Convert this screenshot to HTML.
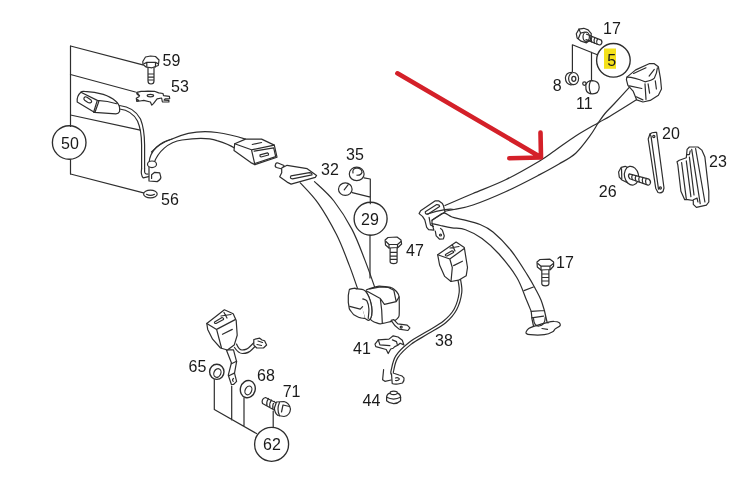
<!DOCTYPE html>
<html><head><meta charset="utf-8">
<style>
html,body{margin:0;padding:0;background:#fff;width:749px;height:484px;overflow:hidden}
svg{display:block;will-change:transform}
text{font-family:"Liberation Sans",sans-serif;font-size:16px;fill:#1a1a1a}
</style></head><body>
<svg width="749" height="484" viewBox="0 0 749 484">
<rect width="749" height="484" fill="#fff"/>
<g fill="none" stroke="#2e2e2e" stroke-width="1.2" stroke-linejoin="round" stroke-linecap="round">

<!-- ===== LEFT GROUP 50 ===== -->
<path d="M70.5,46 V126.5 M70.5,159.5 V174"/>
<path d="M70.5,46 L142.8,64.9 M70.5,74.5 L135.4,92 M70.5,115 L140.3,130.2 M70.5,174 L143.5,192.8"/>
<circle cx="69.2" cy="142.5" r="16.8" stroke-width="1.35"/>
<!-- bolt 59 -->
<path d="M148,67 V81 Q148,84 151,84 Q154,84 154,81 V67 M148,74 H154 M148,77.2 H154 M148,80 H154" fill="#fff"/>
<path d="M142.8,61.5 L145.5,57 L150.5,56 L155.5,56.5 L159,60 L158.3,65.5 L152,67.8 L146,67 L143,64.5 Z" fill="#fff"/>
<path d="M144,63.8 L146.8,62.4 H155.5 L158.2,63.8 M146.8,62.4 V67 M155.5,62.4 V67"/>
<!-- bracket 53 -->
<path d="M144.3,91.3 L148.0,91.1 L154.4,91.3 L158.7,92.9 L163.0,93.5 L163.5,95.6 L169.4,96.4 L169.7,98.6 L165.1,98.8 L164.1,100.2 L168.9,100.4 L168.9,102.0 L162.4,102.0 L161.6,98.0 L157.1,98.8 L153.4,103.6 L151.8,105.2 L150.4,102.0 L143.8,100.4 L140.0,101.0 L136.8,101.5 L136.3,98.3 L138.9,96.7 L139.5,95.6 L137.3,94.5 L136.8,92.4 L141.1,91.3 Z" fill="#fff"/>
<ellipse cx="150.4" cy="95.6" rx="3.2" ry="1.3"/>
<path d="M137,93 L138.5,94.5 M137.2,99.8 L138.6,100.5" stroke-width="1.6"/>
<!-- left buckle -->
<path d="M77.2,101.9 Q76.5,96 80.9,92.2 Q82,91 84.5,91.4 Q95,92 103.3,94.4 Q111,97 115.5,101 Q119.5,104.5 119.6,108 L119.6,111.5 Q118.5,113.8 115.9,113.8 L94.3,112.3 Z" fill="#fff"/>
<path d="M80.9,92.2 L97.3,100.4 L93.6,112.3 M98.8,101.5 L95,112.3 M97.3,100.4 Q108,101 116.6,103.7"/>
<path d="M84,98 Q85,96 87,97.2 L91,100 Q92.5,102 90.5,102.8 Q89,103.2 87.6,102.3 L84.6,100.2 Q83.5,99 84,98 Z"/>
<!-- cable -->
<path d="M119.6,105.5 Q134,107 140.5,119 Q144.5,129 144.6,145 L144.6,168.6"/>
<path d="M119.6,109 Q132,110.5 137.5,121 Q141.5,130 141.6,145 L141.6,168.6"/>
<path d="M141.6,168.6 Q140.6,175 143.2,177.9 L148.5,176.6 M144.6,168.6 V172 Q145,174.5 148,174" />
<!-- strap left -->
<path d="M149,163 C150,150 160,142 172,139 C185,133 200,130 217,132.5 C228,134 237,136.5 245.5,139.1"/>
<path d="M154,163 C158,152 168,142 182,140 C195,138 208,137.5 217,140.6 C225,143 230,145 234.5,148"/>
<path d="M151.5,152 Q160,143 172,139"/>
<!-- strap anchor -->
<ellipse cx="152" cy="164.3" rx="4.5" ry="3.3" fill="#fff"/>
<path d="M149,167.3 V181 L157.2,181.6 Q161,179.5 160.9,177.3 L159.7,172.9 L154.7,172.3 L151.6,174.8 V178.5" fill="#fff"/>
<!-- washer 56 -->
<ellipse cx="150.4" cy="194" rx="6.8" ry="3.8" fill="#fff"/>
<path d="M146.5,194.3 Q150.5,196.5 154.5,194.3"/>

<!-- ===== top buckle ===== -->
<path d="M234.7,143.8 L245.5,139.1 L261.6,139.1 L274.3,145.1 L277,157.2 L254.9,164.6 L250.8,162.6 L234,150.5 Z" fill="#fff"/>
<path d="M234.7,143.8 L251.5,149.8 L274.3,145.1 M251.5,149.8 L254.9,164.6 M254.2,151.2 L273.7,147.8 L275.7,156.6 L255.5,163.3 M252.2,144.5 L261.6,142.5"/>
<path d="M260,154.8 L267.5,152.8 Q269,153.5 268.5,155 L261,157 Q259.5,156.5 260,154.8 Z"/>
<!-- tongue 32 -->
<path d="M275.5,164.5 Q276,162.5 278,163 L284,165.5 L282,169 L276.5,167.5 Q274.5,166.5 275.5,164.5 Z" fill="#fff"/>
<path d="M281.7,172.7 L281.7,168 L287.1,165.3 L307.2,168.7 L316.6,175.4 L315.3,177.4 L291.1,184.1 L287.1,182.1 L279.7,176.7 Z" fill="#fff"/>
<path d="M291,175.8 L309.5,172.6 Q312.3,172.8 312,174.8 L292.5,178.8 Q289.3,178.5 291,175.8 Z"/>
<!-- strap to retractor -->
<path d="M300.3,182.9 C303.3,186.3 312.4,195.0 318.4,203.6 C324.4,212.2 331.3,224.3 336.5,234.6 C341.7,244.9 345.7,256.1 349.4,265.6 C353.1,275.1 357.0,287.1 358.5,291.4"/>
<path d="M314.5,181.6 C317.7,184.8 327.6,193.0 333.9,201.0 C340.1,209.0 346.8,219.5 352.0,229.4 C357.2,239.3 361.1,250.5 365.0,260.4 C368.9,270.3 373.6,284.1 375.3,288.9"/>

<!-- ===== 29 group ===== -->
<circle cx="370.6" cy="218.7" r="16.5" stroke-width="1.35"/>
<path d="M364,177.8 L370.3,179 V203.7 M352.2,192.6 L370.3,197.2 M370,235.2 V278"/>
<ellipse cx="356.7" cy="173.9" rx="7.4" ry="6.8" fill="#fff"/>
<path d="M353,173 Q352,168.5 357,168 Q362,168.5 362,172.5 Q361,175.5 357,175.2"/>
<ellipse cx="345.3" cy="189.2" rx="6.8" ry="6.25" fill="#fff"/>
<path d="M344.2,189.8 L348.2,184.7"/>
<!-- bolt 47 -->
<path d="M390.1,248 V261.5 Q390.1,263.7 393.6,263.7 Q397.1,263.7 397.1,261.5 V248 M390.1,252.3 H397.1 M390.1,256.1 H397.1 M390.1,259.3 H397.1" fill="#fff"/>
<path d="M385.5,245 L385.1,240 L388,237.5 L397,237 L401,240 L401.6,244 L398,247.5 L389,248 Z" fill="#fff"/>
<path d="M386,241.5 L389,244.5 H397.5 L401,241.5 M389,244.5 V248 M397.5,244.5 V248"/>
<!-- retractor -->
<path d="M349.4,289.5 C349.7,289.2 354.4,288.1 354.8,288.1 C355.2,288.2 358.5,289.9 358.8,290.2 C359.1,290.5 362.0,295.1 362.2,295.5 C362.3,296.0 363.1,301.7 363.1,302.3 C363.2,302.8 363.4,309.7 363.5,310.3 C363.6,311.0 365.7,318.1 365.5,318.4 C365.4,318.7 360.6,317.9 360.2,317.7 C359.7,317.6 353.9,314.7 353.4,314.4 C353.0,314.0 349.6,309.5 349.4,309.0 C349.2,308.5 348.4,302.8 348.3,302.3 C348.3,301.7 348.3,296.0 348.3,295.5 C348.4,295.0 349.2,289.8 349.4,289.5 Z" fill="#fff"/>
<path d="M366.2,290.2 C366.9,289.4 377.3,286.3 379.0,286.1 C380.6,285.9 389.9,287.1 391.1,287.5 C392.2,287.8 395.9,290.9 396.5,291.5 C397.0,292.1 399.0,295.3 399.1,296.9 C399.3,298.5 399.4,314.1 399.1,315.7 C398.9,317.3 396.4,319.9 395.1,320.4 C393.9,320.9 381.8,323.7 380.3,323.8 C378.9,323.9 374.3,322.1 373.6,321.7 C372.9,321.4 370.4,319.5 370.2,319.1 C370.1,318.7 371.5,316.6 371.6,315.7 C371.7,314.8 371.8,307.5 371.6,306.3 C371.4,305.0 369.3,298.0 368.9,296.9 C368.5,295.8 365.5,290.9 366.2,290.2 Z" fill="#fff"/>
<path d="M356.1,288.8 C357.2,289.0 362.5,289.1 364.2,290.2 C365.9,291.2 367.9,294.7 368.9,296.9 C369.9,299.0 371.2,303.8 371.6,306.3 C371.9,308.8 371.9,313.8 371.6,315.7 C371.2,317.6 369.7,320.0 368.9,320.4 C368.1,320.8 366.0,318.9 365.5,318.7" fill="#fff"/>
<path d="M362.8,298.9 C363.4,299.2 366.1,299.6 366.9,300.9 C367.7,302.3 368.7,306.6 368.9,309.0 C369.1,311.3 368.3,317.1 368.2,318.4"/>
<path d="M349.7,306.3 L360.2,309.2 L362.6,306.6 M367.6,291.5 L380.3,298.5 L384.4,304.3 L396.2,301.7 L399.1,296.9 M369.8,288.8 L380.3,286.8 L388.4,287.5 L393.8,290.2 L396.2,301.7 M380.3,298.5 L381.7,310.3 L382.3,323.1"/>
<path d="M391.1,320.4 L393.8,319.7 L397.8,323.8 L407.2,325.1 L409.9,327.8 L407.9,330.5 L399.1,329.1 L395.1,325.8 Z" fill="#fff"/>
<circle cx="401.2" cy="327.1" r="1"/>
<!-- ===== buckle 38 ===== -->
<path d="M460.5,279.0 C460.7,281.2 462.4,287.2 461.8,292.3 C461.2,297.4 459.3,304.6 456.6,309.7 C453.9,314.8 450.4,318.7 445.7,322.7 C441.0,326.7 434.2,330.0 428.4,333.6 C422.6,337.2 416.1,340.4 411.0,344.4 C405.9,348.4 400.9,353.1 398.0,357.4 C395.1,361.7 394.4,367.6 393.7,370.4 C392.9,373.2 393.5,373.4 393.5,374.0"/>
<path d="M458.0,280.0 C458.2,282.1 459.8,287.5 459.2,292.3 C458.6,297.1 456.8,304.2 454.2,309.0 C451.6,313.8 448.1,317.2 443.5,321.0 C438.9,324.8 432.6,327.9 426.8,331.5 C421.1,335.1 414.2,338.4 409.0,342.5 C403.8,346.6 398.8,351.2 395.8,355.8 C392.8,360.4 392.0,367.0 391.2,370.0 C390.4,373.0 391.0,373.3 391.0,374.0"/>
<path d="M437.7,254.8 L456.1,242.1 L464.3,247.5 L467.5,267.5 L466.2,275.8 L458.6,280.2 L451,281.5 L444.7,276.4 L439.6,265 Z" fill="#fff"/>
<path d="M437.7,254.8 L449.8,259 L464.3,248.5 M449.8,259 L452.3,267.5 L451,281.5 M453.6,265.6 L462.4,261.2"/>
<path d="M445.5,254.5 L452,250.8 Q454,251 453.5,252.5 L447,256 Q445,256 445.5,254.5 Z"/>
<path d="M452.3,244.7 L455,251 M450,248 L459,246.5"/>
<!-- cable end bracket -->
<path d="M383.6,369.7 L382.6,379.7 L384.9,381.3 L391.2,380.0"/>
<path d="M391.5,373.9 L392.2,383.5 Q394,384.5 398,384 L402.5,383 Q404.5,381 404,378 Q402.5,375.5 399,375 L394.5,373.5" fill="#fff"/>
<path d="M395.5,378 Q398,377 399.5,379 Q398,381 395.5,380.5"/>
<!-- clip 41 -->
<path d="M375.0,344.1 L378.3,339.9 L389.0,339.1 L393.2,335.8 L398.1,337.0 L402.3,340.3 L403.9,344.9 L400.1,343.2 L397.8,345.2 L394.8,346.6 L393.2,348.2 L390.7,349.0 L388.2,353.5 L386.2,349.5 L375.8,346.6 Z" fill="#fff"/>
<path d="M378.3,339.9 L379.9,344.9 L389.9,345.7 M392.4,339.9 L396.5,341.6 L397.3,344.6"/>
<!-- nut 44 -->
<path d="M386.6,397 Q387,393.8 390,393.2 L390.5,391.8 Q393.6,390.6 397,391.8 L397.4,393.2 Q400.3,394 400.6,397 L400.6,400.8 Q397.5,403.8 393.6,403.7 Q389.5,403.6 386.6,400.8 Z" fill="#fff"/>
<path d="M386.6,397.3 Q393.6,400.8 400.6,397.3 M390,393.4 Q393.6,396 397.4,393.4"/>

<!-- ===== bottom-left group 62 ===== -->
<path d="M226.3,349.8 L231.4,362.8 L228.3,375.2 L231.4,384.5 L233.5,384.5 L236.6,381.4 L234.5,373.1 L236.6,361.7 L233.5,349.8 Z" fill="#fff"/>
<path d="M231.4,363.8 L236.6,361.2 M228.9,375.7 L234.3,373.1 M233.5,378.5 Q231.8,379.8 233.2,381.3"/>
<path d="M236.5,344 Q239,350 242,350 Q247,350 250,346.5 L254,342.5 M234.5,347.5 Q238.5,353.5 242.5,353.5 Q248.5,353.5 252,349.5 L255.5,346"/>
<path d="M253.8,339.5 L259.7,338.2 L262,340 L264.6,340.8 L266.6,345 L263.5,348 L256.8,348 L253.8,345.1 Z" fill="#fff"/><path d="M258,341 L262.5,342.5 M257,344.5 L261.5,345.5"/>
<path d="M206.8,323.5 L224.4,309.8 L233.2,313.7 L236.2,320.6 L237.2,335.3 L234.2,345.1 L227.4,350 L220.5,348 L212.6,339.2 L207.7,329.4 Z" fill="#fff"/>
<path d="M206.8,323.5 L216.6,329.4 L235.2,319.6 M216.6,329.4 L221.5,348 M222.5,334.3 L232.3,329.4"/>
<path d="M214.6,322 L222,317.5 Q224,318 223.5,319.5 L216,323.5 Q214,323.5 214.6,322 Z"/>
<path d="M224,312.5 L227,318 M221,316 L231,314.5"/>
<ellipse cx="216.8" cy="371.8" rx="7.2" ry="7.6" fill="#fff" stroke-width="1.4"/>
<ellipse cx="217.4" cy="373" rx="3.4" ry="4.5" transform="rotate(25 217.4 373)"/>
<ellipse cx="247.8" cy="389.1" rx="7.4" ry="8.7" transform="rotate(15 247.8 389.1)" fill="#fff" stroke-width="1.4"/>
<ellipse cx="248.4" cy="390.4" rx="3.2" ry="4.6" transform="rotate(25 248.4 390.4)"/>
<path d="M214.3,379.5 V409.6 L256.5,433.5 M231.7,386 V420 M244,397.8 V425.5 M273.2,411 V427.5"/>
<circle cx="271.6" cy="444.3" r="17" stroke-width="1.35"/>
<!-- bolt 71 -->
<path d="M265.5,397.5 L277.5,403.5 L276,411 L262.5,403.5 Q261,399 265.5,397.5 Z M268.5,398.5 Q266,402 267,405.5 M271.5,400 Q269,403.5 270,407 M274.5,401.5 Q272,405 273,408.5" fill="#fff"/>
<path d="M276.5,402 L284,401.5 Q289.5,403 290.5,409 Q290,415.5 284,416.5 L278,415.5 Q274.5,413 274.4,408 Z" fill="#fff"/>
<path d="M279.5,402.5 Q276.5,409 279.5,415.8 M283,405 L281.5,412 M283,405 L289.5,406.5"/>

<!-- ===== right belt ===== -->
<!-- upper strap D-ring to guide -->
<path d="M445.0,205.5 C449.7,203.5 462.8,197.8 473.0,193.5 C483.2,189.2 495.1,184.9 506.1,179.5 C517.1,174.1 531.1,166.0 539.2,161.2 C547.4,156.4 548.9,154.7 555.0,150.5 C561.1,146.3 568.5,140.6 575.7,136.0 C582.9,131.4 592.7,126.0 598.4,122.7 C604.1,119.4 605.0,119.2 610.0,116.2 C615.0,113.2 624.0,107.6 628.5,104.8 C633.0,102.0 635.4,100.5 636.8,99.6"/>
<path d="M436.0,213.0 C439.0,212.4 447.8,210.8 454.0,209.5 C460.2,208.2 464.3,208.0 473.0,205.0 C481.7,202.0 495.1,196.5 506.1,191.5 C517.1,186.5 530.4,179.5 539.2,174.9 C548.0,170.3 552.9,167.6 559.0,164.0 C565.1,160.4 570.5,157.9 575.7,153.2 C580.9,148.5 586.3,140.8 590.1,135.7 C593.9,130.6 595.9,126.4 598.4,122.7 C600.9,119.0 602.4,116.6 605.0,113.5 C607.6,110.4 609.9,108.4 614.0,104.0 C618.1,99.6 626.9,90.0 629.5,87.2"/>
<!-- guide -->
<path d="M626.9,77.1 L635.7,69.9 L649.1,63.7 L654.3,63.7 L658.4,66.8 L660.5,78.7 L661.5,89 L658.4,95.2 L650.2,100.4 L642.9,102 L636.7,99.9 L633.1,91.1 L627.9,85.4 L626.4,79.7 Z" fill="#fff"/>
<path d="M626.9,77.1 Q634,77 645,81.8 Q652,80.5 654.3,78.2 Q657,73 657.4,67.8 M645,83.9 L646,99.4 M648.1,83.9 L649.6,93.2 M655.3,80.8 L656.4,89 M633.6,73.5 L646,67.8 M649.1,76.1 L654.3,69.4"/>
<path d="M629.5,85.9 L641.9,88.5 M636.2,96.8 L642.9,99.9"/>
<!-- D-ring -->
<path d="M419.1,213.6 L420.6,210.7 L435.3,200.8 L438.6,200.8 L442.4,203.6 L443.4,205.5 L445,212 L432,220.2 L432,223.6 L433.9,230.2 L428.6,229.7 L426.7,227.4 L424.8,219.8 L422.5,216.4 Z" fill="#fff"/>
<path d="M425.3,211.7 L436.7,204.6 Q439.5,204.5 439.6,206.5 L428.2,214.1 Q425,214.5 425.3,211.7 Z"/>
<path d="M429.1,217.4 L430.5,225 L433.4,226.4"/>
<path d="M435.3,231.2 L436.2,235.9 L439.6,239.2 L443.4,238.8 L444.3,235.9 L442.4,230.2 L440.5,228.3" fill="#fff"/>
<circle cx="440.5" cy="235" r="1"/>
<path d="M427.5,214 C432,212.5 438,210.8 445,209.6 C449,209 452,209 454,209.5"/>
<!-- lower strap -->
<path d="M432.0,220.2 C433.4,219.2 438.4,215.7 440.5,214.5 C442.6,213.3 442.9,212.7 444.8,213.1 C446.7,213.5 449.0,215.9 452.0,217.0 C455.0,218.1 457.9,218.3 462.6,219.6 C467.3,220.8 474.9,222.4 480.0,224.5 C485.1,226.6 487.8,227.7 493.0,232.0 C498.2,236.3 505.2,243.3 511.0,250.5 C516.8,257.7 523.3,268.5 527.5,275.1 C531.7,281.7 533.8,285.9 536.0,290.0 C538.2,294.1 539.6,296.6 541.0,300.0 C542.4,303.4 543.8,308.8 544.4,310.5"/>
<path d="M432.0,223.6 C433.4,223.9 437.2,224.8 440.5,225.5 C443.8,226.2 447.8,227.1 452.0,227.8 C456.2,228.5 460.5,227.9 465.5,229.7 C470.5,231.5 476.4,234.4 482.0,238.5 C487.6,242.6 493.2,247.5 499.0,254.0 C504.8,260.5 512.2,269.8 516.8,277.5 C521.4,285.2 524.1,294.4 526.5,300.0 C528.9,305.6 530.4,309.5 531.2,311.4"/>
<path d="M524,290.6 L533.4,287"/>
<!-- anchor -->
<path d="M526.3,331.4 C526.6,330.8 527.9,329.1 528.7,328.5 C529.6,327.9 531.5,327.2 533.7,326.4 C535.9,325.7 545.3,322.9 547.8,322.3 C550.2,321.7 553.0,321.4 554.4,321.5 C555.7,321.5 558.6,322.2 559.3,322.7 C560.0,323.2 560.6,324.9 560.1,325.6 C559.7,326.3 556.1,328.2 555.2,328.9 C554.3,329.6 554.0,331.1 552.7,331.8 C551.5,332.5 547.0,334.4 544.4,334.7 C541.8,335.0 532.5,334.9 530.4,334.7 C528.3,334.6 526.7,333.9 526.3,333.5 C525.8,333.1 526.0,332.0 526.3,331.4 Z" fill="#fff"/>
<path d="M531.2,311.4 L544.4,310.5 M531.6,317.8 L543.6,316.1 M531.2,311.4 L532,319 L533.5,326 M544.4,310.5 L546.9,321.5 L548,323"/>
<path d="M533.5,318.5 Q534,326.5 539.1,326 Q545,325.5 545.3,317"/>
<path d="M542,328.5 L547.5,329.3"/>
<!-- bolt 17 lower -->
<path d="M541.8,269.5 V283.5 Q541.8,285.8 545.3,285.8 Q548.9,285.8 548.9,283.5 V269.5 M541.8,274 H548.9 M541.8,277.5 H548.9 M541.8,281 H548.9" fill="#fff"/>
<path d="M537.3,267 L537,262 L540,259.5 L550,259.2 L553.6,262 L553.6,266 L550.5,269.5 L541,270 Z" fill="#fff"/>
<path d="M537.8,263.5 L541,266.2 H550 L553.4,263.5 M541,266.2 V270 M550,266.2 V270"/>

<!-- 17 top bolt, 8, 11 -->
<path d="M586.5,34.2 L601.3,40.1 Q602.8,42.5 600.8,44.6 L599.4,45 L586,39.6 Z" fill="#fff"/>
<path d="M589,35.5 Q587.5,38 588.6,40.8 M592,36.7 Q590.5,39.2 591.6,42 M594.8,37.8 Q593.3,40.3 594.4,43.2 M597.5,38.9 Q596,41.4 597.1,44.3"/>
<path d="M576.3,33.7 L579,29.1 L583.8,28.3 L588.1,29.9 L591.3,33.7 L590.3,40.1 L586.5,42.8 L581.1,41.2 L577.1,38 Z" fill="#fff"/>
<path d="M579,29.1 L580.6,33.1 L578.4,38.5 M580.6,33.1 L585,32"/>
<ellipse cx="586.2" cy="36.8" rx="3.2" ry="4.6" fill="#fff"/>
<path d="M586.5,34.2 L591.5,36 M586,39.6 L590.8,41"/>
<path d="M597.3,54.8 L572.4,44.8 V71.5 M591.5,52.3 V80.3"/>
<circle cx="613.4" cy="60.3" r="16.8" stroke-width="1.35"/>
<path d="M571.6,72.4 Q566,72.5 565.4,77.8 Q565.5,84 570.7,84.8 L574,84.5" fill="#fff"/>
<ellipse cx="573.6" cy="78.6" rx="5" ry="6.1" fill="#fff"/>
<ellipse cx="573.8" cy="78.8" rx="2" ry="2.5" stroke-width="1.3"/>
<circle cx="584.4" cy="83.6" r="1.7" fill="#fff"/>
<path d="M585.8,85.5 Q586.5,80.8 592.5,80.7 Q599.2,81.2 599.2,87.3 Q599,93.8 592.6,93.9 Q587,93.8 586,89.5 Z" fill="#fff"/>
<path d="M590.5,81 Q587.8,87 590.8,93.6"/>

<!-- 20, 23, 26 -->
<path d="M648.2,139 L650,134 Q652,132 656.6,132.4 L664,188 L663,191.5 Q661,193.5 658,192.5 L655.7,188.2 Z" fill="#fff"/>
<path d="M651,136.2 L658.5,189.1 M650,134 L651,136.2"/>
<circle cx="653.8" cy="136.5" r="1.1"/>
<circle cx="660.3" cy="188" r="1.1"/>
<path d="M687.1,149.3 L689.4,147.0 L697.9,147.0 L701.8,150.1 L704.9,157.1 L708.8,191.2 L708.8,202.0 L706.4,205.1 L696.4,207.4 L693.3,204.3 L693.3,200.5 L687.8,199.7 L684.7,199.7 L680.9,191.2 L677.8,164.8 L677.0,161.7 L679.3,160.2 L686.3,157.8 Z" fill="#fff"/>
<path d="M691.7,149.3 L700.2,203.6 M695.6,148.5 L704.9,202.0 M681.6,162.5 L686.3,198.9 M686.3,160.9 L690.9,196.6 M689.4,157.1 L694.0,195.0"/>
<path d="M687.1,154.7 L689.4,154.7 L690.2,150.9 M693.3,199.7 L697.1,198.1 L697.9,202.0"/>
<path d="M618.6,172 L621.2,167.3 L625.2,166.3 L628.5,168 L628,183 L622,180 L619.3,177.2 Z" fill="#fff"/>
<path d="M621.5,168.5 L621.8,178.8"/>
<ellipse cx="631.5" cy="175.7" rx="7" ry="9.5" transform="rotate(-12 631.5 175.7)" fill="#fff"/>
<path d="M629.2,173.9 L649,179.2 Q651.5,181.5 650,184 Q649,185.5 648,185.1 L629.8,178.8 Q627.5,176 629.2,173.9 Z" fill="#fff"/>
<path d="M632.5,174.6 Q631,177 632.3,179.6 M636,175.6 Q634.5,178 635.8,180.8 M639.5,176.5 Q638,179 639.3,182 M643,177.5 Q641.5,180 642.8,183 M646.3,178.4 Q644.8,181 646.1,184.2"/>
</g>

<!-- yellow highlight for 5 -->
<rect x="604" y="48.5" width="12" height="20.3" fill="#f4e11c"/>

<!-- RED ARROW -->
<g stroke="#d42029" stroke-width="4.6" stroke-linecap="round" stroke-linejoin="round" fill="none">
<path d="M397.4,73.3 L540.5,157 M540.5,132.6 L541,157.5 L509.3,158.3"/>
</g>

<!-- labels -->
<g>
<text x="70" y="148.8" text-anchor="middle">50</text>
<text x="162.5" y="65.8">59</text>
<text x="171" y="91.8">53</text>
<text x="161" y="204.8">56</text>
<text x="321" y="174.8">32</text>
<text x="346" y="159.8">35</text>
<text x="370" y="224.8" text-anchor="middle">29</text>
<text x="406" y="255.8">47</text>
<text x="435" y="345.8">38</text>
<text x="353" y="353.8">41</text>
<text x="362.5" y="405.8">44</text>
<text x="188.6" y="371.8">65</text>
<text x="257" y="380.8">68</text>
<text x="282.7" y="396.8">71</text>
<text x="272" y="449.8" text-anchor="middle">62</text>
<text x="603" y="33.8">17</text>
<text x="611.8" y="66.3" text-anchor="middle">5</text>
<text x="552.8" y="90.8">8</text>
<text x="576" y="108.8">11</text>
<text x="662" y="138.8">20</text>
<text x="709" y="166.8">23</text>
<text x="598.8" y="196.8">26</text>
<text x="556" y="267.8">17</text>
</g>
</svg>
</body></html>
